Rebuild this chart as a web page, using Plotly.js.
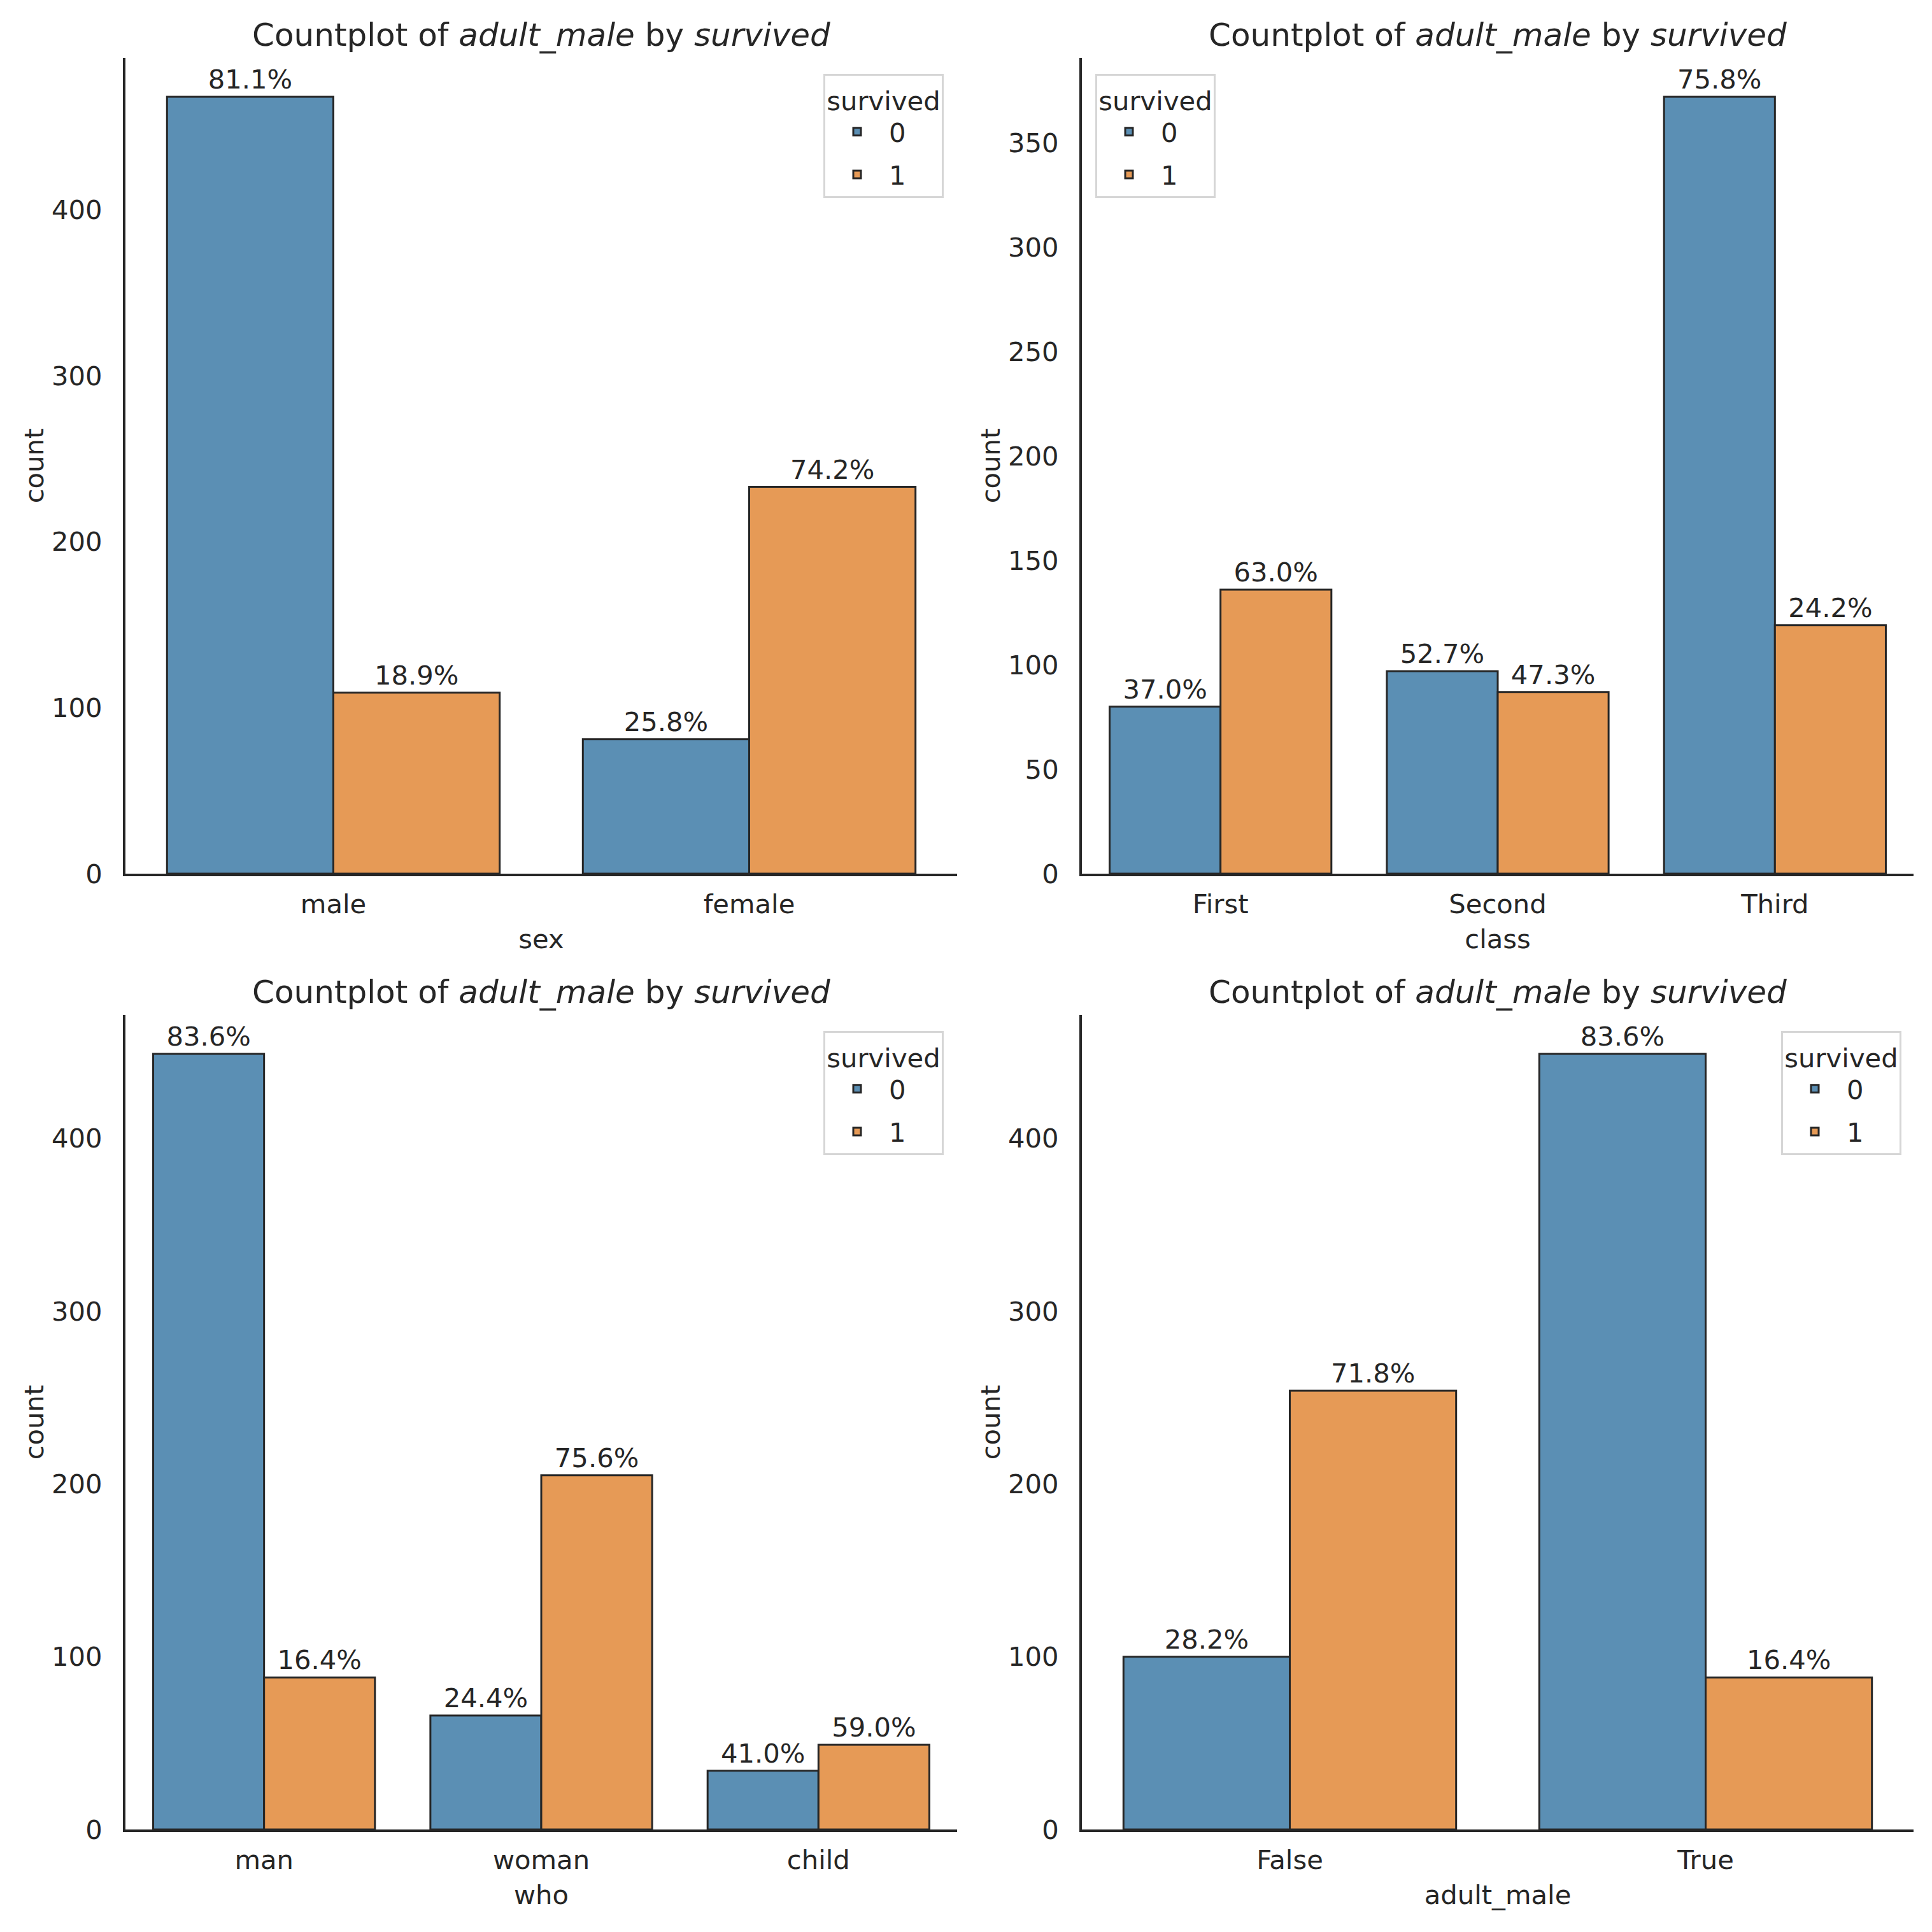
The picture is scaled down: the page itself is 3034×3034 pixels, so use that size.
<!DOCTYPE html>
<html>
<head>
<meta charset="utf-8">
<script src="https://cdn.plot.ly/plotly-3.0.1.min.js"></script>
<style>html,body{margin:0;padding:0;background:#fff;}</style>
</head>
<body>
<div id="chart" style="width:3034px;height:3034px;"></div>
<script>
// ---- data ----
const hueLabels = ['0', '1'];
const sexCats = ['male', 'female'];
const sexDied = [468, 81];
const sexSurv = [109, 233];
const classCats = ['First', 'Second', 'Third'];
const classDied = [80, 97, 372];
const classSurv = [136, 87, 119];
const whoCats = ['man', 'woman', 'child'];
const whoDied = [449, 66, 34];
const whoSurv = [88, 205, 49];
const adultCats = ['False', 'True'];
const adultDied = [100, 449];
const adultSurv = [254, 88];
const xTitles = ['sex', 'class', 'who', 'adult_male'];
const yTickVals = [[0,100,200,300,400],[0,50,100,150,200,250,300,350],[0,100,200,300,400],[0,100,200,300,400]];

// ---- style ----
const W = 3034;
const FONT = 'DejaVu Sans';
const TXT = '#262626';
const FS = 41.7;
const colors = ['#5b8fb4', '#e69a56'];
const edge = '#262626';

const panels = [
  {cats: sexCats, d: sexDied, s: sexSurv},
  {cats: classCats, d: classDied, s: classSurv},
  {cats: whoCats, d: whoDied, s: whoSurv},
  {cats: adultCats, d: adultDied, s: adultSurv}
];

// pixel boxes of axes
const boxes = [
  {x0:197, x1:1503, y0:91, y1:1372},
  {x0:1699, x1:3005, y0:91, y1:1372},
  {x0:197, x1:1503, y0:1594, y1:2873},
  {x0:1699, x1:3005, y0:1594, y1:2873}
];
const legendPos = [
  {x:1482, y:116, xa:'right'},
  {x:1720, y:116, xa:'left'},
  {x:1482, y:1619, xa:'right'},
  {x:2986, y:1619, xa:'right'}
];

const px = v => v / W;
const py = v => 1 - v / W;

const traces = [];
const layout = {
  width: W, height: W,
  margin: {l:0, r:0, t:0, b:0},
  paper_bgcolor: '#fff', plot_bgcolor: '#fff',
  font: {family: FONT, size: FS, color: TXT},
  barmode: 'group', bargap: 0.2, bargroupgap: 0,
  showlegend: true,
  annotations: []
};

panels.forEach((p, i) => {
  const k = i + 1;
  const xa = k === 1 ? 'x' : 'x' + k;
  const ya = k === 1 ? 'y' : 'y' + k;
  const lg = k === 1 ? 'legend' : 'legend' + k;
  const totals = p.cats.map((c, j) => p.d[j] + p.s[j]);
  [p.d, p.s].forEach((vals, h) => {
    traces.push({
      type: 'bar', x: p.cats, y: vals, xaxis: xa, yaxis: ya,
      name: hueLabels[h], legend: lg, showlegend: true,
      legendgroup: 'p' + k + 'h' + h,
      marker: {color: colors[h], line: {color: edge, width: 3}},
      text: vals.map((v, j) => (v / totals[j] * 100).toFixed(1) + '%'),
      textposition: 'outside', constraintext: 'none', cliponaxis: false,
      textfont: {family: FONT, size: FS, color: TXT},
      hoverinfo: 'skip'
    });
  });
  const b = boxes[i];
  const ymax = Math.max(...p.d, ...p.s) * 1.05;
  layout['xaxis' + (k === 1 ? '' : k)] = {
    domain: [px(b.x0), px(b.x1)], anchor: ya, type: 'category',
    range: [-0.5, p.cats.length - 0.5],
    showline: true, linecolor: TXT, linewidth: 4, ticks: '', showgrid: false, zeroline: false,
    tickfont: {family: FONT, size: FS, color: TXT}, ticklabelstandoff: 8,
    title: {text: xTitles[i], font: {family: FONT, size: FS, color: TXT}, standoff: 18}
  };
  layout['yaxis' + (k === 1 ? '' : k)] = {
    domain: [py(b.y1), py(b.y0)], anchor: xa,
    range: [0, ymax], tickvals: yTickVals[i],
    showline: true, linecolor: TXT, linewidth: 4, ticks: '', showgrid: false, zeroline: false,
    tickfont: {family: FONT, size: FS, color: TXT}, ticklabelstandoff: 24,
    title: {text: 'count', font: {family: FONT, size: FS, color: TXT}, standoff: 0}
  };
  const L = legendPos[i];
  layout[lg] = {
    x: px(L.x), y: py(L.y), xanchor: L.xa, yanchor: 'top',
    xref: 'paper', yref: 'paper',
    bgcolor: '#fff', bordercolor: '#d6d6d6', borderwidth: 3,
    font: {family: FONT, size: FS, color: TXT},
    title: {text: 'survived', side: 'top center', font: {family: FONT, size: FS, color: TXT}},
    traceorder: 'grouped', itemwidth: 90, tracegroupgap: 10
  };
  layout.annotations.push({
    xref: 'paper', yref: 'paper',
    x: px((b.x0 + b.x1) / 2), y: py(b.y0 - 36),
    xanchor: 'center', yanchor: 'middle', showarrow: false,
    text: 'Countplot of <i>adult_male</i> by <i>survived</i>',
    font: {family: FONT, size: 50, color: TXT}
  });
});

Plotly.newPlot('chart', traces, layout, {staticPlot: true, displayModeBar: false});
</script>
</body>
</html>
